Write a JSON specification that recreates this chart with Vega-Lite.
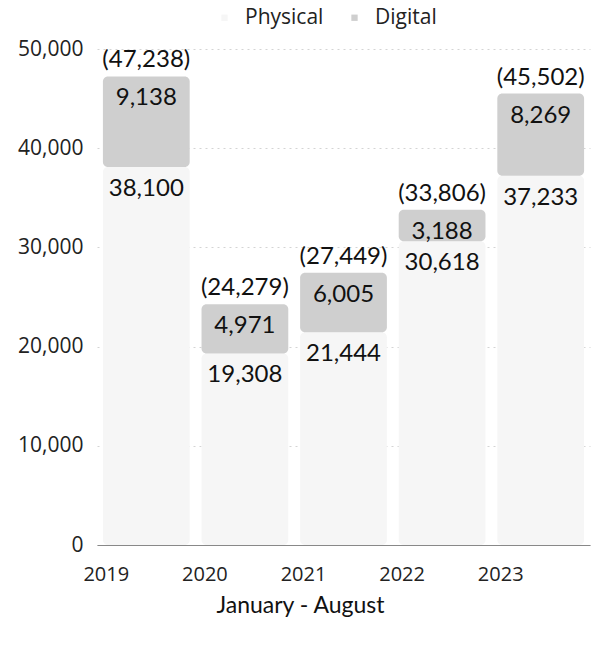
{
  "$schema": "https://vega.github.io/schema/vega-lite/v6.json",
  "width": 493,
  "height": 496,
  "autosize": {"type": "none"},
  "padding": {"left": 97, "top": 49, "right": 18, "bottom": 100},
  "background": "white",
  "config": {"view": {"stroke": null}, "font": "Lato"},
  "data": {
    "values": [
      {"year": "2019", "type": "Physical", "value": 38100},
      {"year": "2019", "type": "Digital", "value": 9138},
      {"year": "2020", "type": "Physical", "value": 19308},
      {"year": "2020", "type": "Digital", "value": 4971},
      {"year": "2021", "type": "Physical", "value": 21444},
      {"year": "2021", "type": "Digital", "value": 6005},
      {"year": "2022", "type": "Physical", "value": 30618},
      {"year": "2022", "type": "Digital", "value": 3188},
      {"year": "2023", "type": "Physical", "value": 37233},
      {"year": "2023", "type": "Digital", "value": 8269}
    ]
  },
  "transform": [
    {"stack": "value", "groupby": ["year"], "sort": [{"field": "type", "order": "descending"}], "as": ["y0", "y1"]}
  ],
  "encoding": {
    "x": {
      "field": "year",
      "type": "ordinal",
      "scale": {"paddingInner": 0.12, "paddingOuter": 0.06},
      "axis": {
        "title": "January - August",
        "titleFont": "Lato",
        "titleFontSize": 23,
        "titleFontWeight": "normal",
        "titleColor": "#111",
        "titleX": 203,
        "titleY": 60,
        "titleAlign": "center",
        "titleBaseline": "middle",
        "labelAngle": 0,
        "labelFont": "Open Sans",
        "labelFontSize": 20,
        "labelColor": "#222",
        "labelPadding": 19,
        "labelOffset": -40,
        "ticks": false,
        "domainColor": "#888",
        "domainWidth": 1
      }
    }
  },
  "layer": [
    {
      "mark": {"type": "bar", "cornerRadius": 5},
      "encoding": {
        "y": {
          "field": "y1",
          "type": "quantitative",
          "scale": {"domain": [0, 50000], "nice": false},
          "axis": {
            "title": null,
            "values": [0, 10000, 20000, 30000, 40000, 50000],
            "format": ",.0f",
            "labelFont": "Open Sans",
            "labelFontSize": 21,
            "labelColor": "#222",
            "labelPadding": 14,
            "ticks": false,
            "domain": false,
            "gridColor": "#d4d4d4",
            "gridDash": [2, 4],
            "gridWidth": 1
          }
        },
        "y2": {"field": "y0"},
        "color": {
          "field": "type",
          "type": "nominal",
          "scale": {"domain": ["Physical", "Digital"], "range": ["#f6f6f6", "#cfcfcf"]},
          "legend": {
            "title": null,
            "orient": "none",
            "legendX": 117,
            "legendY": -42,
            "direction": "horizontal",
            "labelFont": "Open Sans",
            "labelFontSize": 21,
            "labelColor": "#222",
            "symbolType": "square",
            "symbolSize": 40,
            "symbolStrokeWidth": 0,
            "columnPadding": 20,
            "labelOffset": 10
          }
        }
      }
    },
    {
      "mark": {"type": "text", "fontSize": 24, "baseline": "middle", "dy": 22, "color": "#111"},
      "encoding": {
        "y": {"field": "y1", "type": "quantitative"},
        "text": {"field": "value", "type": "quantitative", "format": ","}
      }
    },
    {
      "transform": [
        {"filter": "datum.type === 'Digital'"},
        {"calculate": "'(' + format(datum.y1, ',') + ')'", "as": "label"}
      ],
      "mark": {"type": "text", "fontSize": 24, "baseline": "middle", "dy": -16, "color": "#111"},
      "encoding": {
        "y": {"field": "y1", "type": "quantitative"},
        "text": {"field": "label", "type": "nominal"}
      }
    }
  ]
}
